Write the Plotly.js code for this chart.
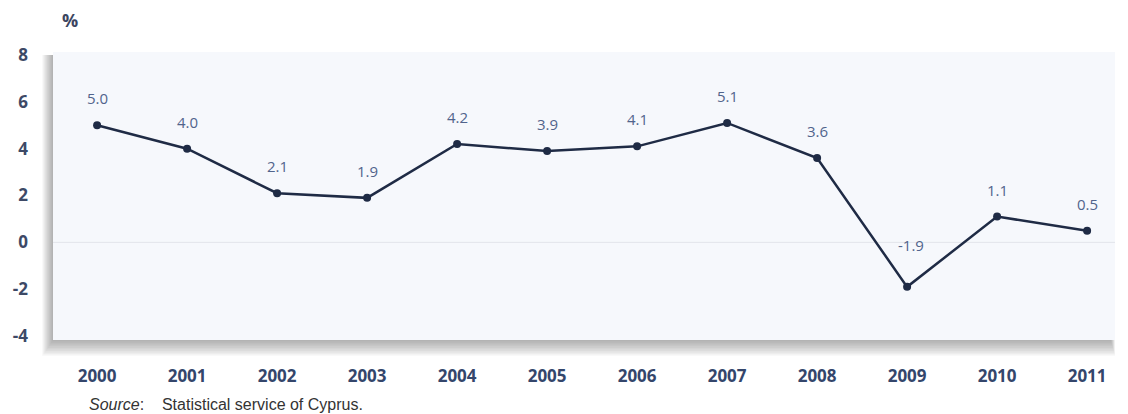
<!DOCTYPE html>
<html><head><meta charset="utf-8">
<script src="https://cdn.plot.ly/plotly-3.0.1.min.js"></script>
<style>body{margin:0;background:#fff}#chart{width:1128px;height:414px}</style>
</head><body><div id="chart"></div>
<script>
const years = ["2000","2001","2002","2003","2004","2005","2006","2007","2008","2009","2010","2011"];
const growth = [5.0, 4.0, 2.1, 1.9, 4.2, 3.9, 4.1, 5.1, 3.6, -1.9, 1.1, 0.5];
const yTicks = [8, 6, 4, 2, 0, -2, -4];

const xIdx = years.map((_, i) => i);
const trace = {
  x: xIdx, y: growth, type: 'scatter', mode: 'lines+markers',
  line: {color: '#1f2b45', width: 2.5},
  marker: {color: '#1f2b45', size: 8},
  hoverinfo: 'skip'
};
const annotations = growth.map((v, i) => ({
  x: i, y: v, xref: 'x', yref: 'y', text: v.toFixed(1), showarrow: false,
  yshift: v < 0 ? 42 : 27, xshift: v < 0 ? 4 : 0,
  font: {family: 'Open Sans', size: 15, color: '#51648c'}
}));
annotations.push({
  xref: 'paper', yref: 'paper', x: 0.007, y: 1.0, yshift: 32, xanchor: 'left', yanchor: 'middle',
  text: '<b>%</b>', showarrow: false, font: {family: 'Open Sans', size: 18, color: '#3b4560'}
});
annotations.push({
  xref: 'paper', yref: 'paper', x: 0.032, y: 0, yshift: -64, xanchor: 'left', yanchor: 'middle',
  text: '<i>Source</i>:    Statistical service of Cyprus.', showarrow: false,
  font: {family: 'Liberation Sans', size: 16, color: '#333'}
});

const shapes = [];
for (let k = 1; k <= 10; k++) {
  shapes.push({type: 'rect', xref: 'paper', yref: 'paper', layer: 'below',
    x0: -k*0.001, x1: 1 - 0.004 + k*0.0004, y0: -k*0.0055, y1: 1 - 0.01,
    line: {width: 0}, fillcolor: 'rgba(70,70,80,0.05)'});
}
shapes.push({type: 'rect', xref: 'paper', yref: 'paper', layer: 'below',
  x0: 0, x1: 1, y0: 0, y1: 1, line: {width: 0}, fillcolor: '#f6f8fc'});
shapes.push({type: 'line', xref: 'paper', yref: 'y', layer: 'below',
  x0: 0, x1: 1, y0: 0, y1: 0, line: {width: 1, color: '#e2e5ea'}});

const layout = {
  width: 1128, height: 414,
  margin: {l: 53, r: 13, t: 52, b: 74},
  paper_bgcolor: '#ffffff', plot_bgcolor: 'rgba(0,0,0,0)',
  showlegend: false,
  xaxis: {
    range: [-0.49, 11.31], tickvals: xIdx, ticktext: years,
    showgrid: false, zeroline: false, showline: false, ticks: '',
    ticklabelstandoff: 24,
    tickfont: {family: 'Open Sans', size: 17, color: '#34466b', weight: 'bold'}
  },
  yaxis: {
    range: [-4.17, 8.13], tickvals: yTicks, ticktext: yTicks.map(String),
    showgrid: false, zeroline: false, showline: false, ticks: '',
    ticklabelstandoff: 24,
    tickfont: {family: 'Open Sans', size: 17, color: '#3d4966', weight: 'bold'}
  },
  annotations: annotations,
  shapes: shapes
};
Plotly.newPlot('chart', [trace], layout, {displayModeBar: false, staticPlot: true});
</script></body></html>
